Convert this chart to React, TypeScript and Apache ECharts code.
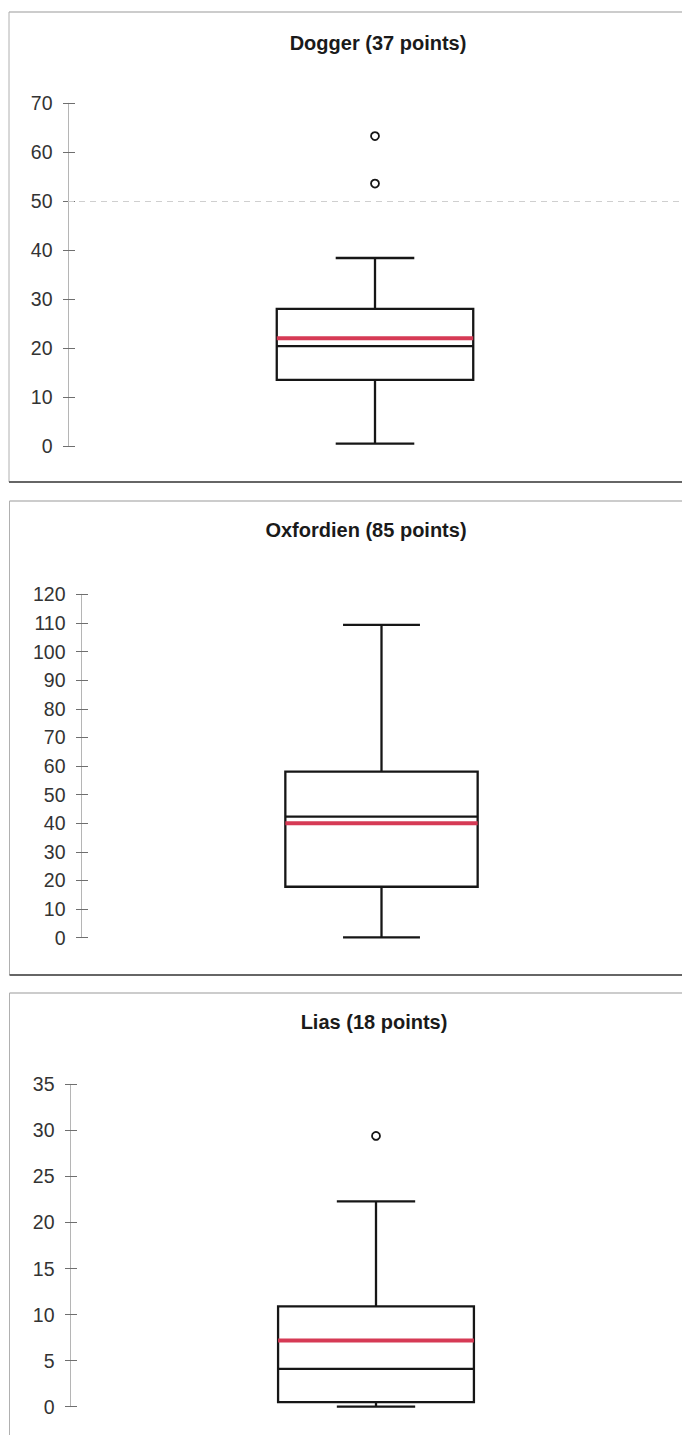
import React, { useEffect, useRef } from "react";
import * as echarts from "echarts";

// ---------- data ----------
const categories = ["Dogger", "Oxfordien", "Lias"];
const panelTitles = ["Dogger (37 points)", "Oxfordien (85 points)", "Lias (18 points)"];
// [min, Q1, median, Q3, max]
const doggerBox = [0.5, 13.5, 20.4, 28.0, 38.4];
const oxfordienBox = [0.1, 17.8, 42.3, 58.0, 109.3];
const liasBox = [0.0, 0.5, 4.1, 10.9, 22.3];
const meanValues = [22.0, 40.0, 7.2];
const doggerOutliers = [53.6, 63.3];
const oxfordienOutliers: number[] = [];
const liasOutliers = [29.4];
const yMaxValues = [70, 120, 35];
const yIntervals = [10, 10, 5];
const doggerThreshold = 50;

const boxes = [doggerBox, oxfordienBox, liasBox];
const outliers = [doggerOutliers, oxfordienOutliers, liasOutliers];
const thresholds: (number | null)[] = [doggerThreshold, null, null];

// ---------- layout / style ----------
const FONT = "'Liberation Sans', Arial, Helvetica, sans-serif";
const LAYOUT = [
  { frameTop: 12, frameBottom: 482, frameLeft: 9, gridLeft: 68, gridTop: 103.3, gridHeight: 342.7, gridRight: -16, titleX: 378, titleY: 43 },
  { frameTop: 501, frameBottom: 975, frameLeft: 9.5, gridLeft: 81, gridTop: 594.3, gridHeight: 343.4, gridRight: -17, titleX: 366, titleY: 530 },
  { frameTop: 993, frameBottom: null as number | null, frameLeft: 9.5, gridLeft: 70, gridTop: 1084.3, gridHeight: 322.4, gridRight: -15, titleX: 374, titleY: 1022 },
];
const BOX_RATIO = 0.32;
const CAP_RATIO = 0.128;
const INK = "#161616";
const MEAN_COLOR = "#d63a55";

function renderBox(_params: any, api: any) {
  const xi = api.value(0);
  const pMin = api.coord([xi, api.value(1)]);
  const pQ1 = api.coord([xi, api.value(2)]);
  const pMed = api.coord([xi, api.value(3)]);
  const pQ3 = api.coord([xi, api.value(4)]);
  const pMax = api.coord([xi, api.value(5)]);
  const pMean = api.coord([xi, api.value(6)]);
  const band = api.size([1, 0])[0];
  const cx = pMin[0];
  const hw = (band * BOX_RATIO) / 2;
  const cw = (band * CAP_RATIO) / 2;
  const ls = { stroke: INK, lineWidth: 2.3, fill: "none" };
  return {
    type: "group",
    children: [
      { type: "line", shape: { x1: cx, y1: pQ3[1], x2: cx, y2: pMax[1] }, style: ls },
      { type: "line", shape: { x1: cx, y1: pQ1[1], x2: cx, y2: pMin[1] }, style: ls },
      { type: "line", shape: { x1: cx - cw, y1: pMax[1], x2: cx + cw, y2: pMax[1] }, style: ls },
      { type: "line", shape: { x1: cx - cw, y1: pMin[1], x2: cx + cw, y2: pMin[1] }, style: ls },
      {
        type: "rect",
        shape: { x: cx - hw, y: pQ3[1], width: 2 * hw, height: pQ1[1] - pQ3[1] },
        style: { stroke: INK, lineWidth: 2.3, fill: "#ffffff" },
      },
      { type: "line", shape: { x1: cx - hw, y1: pMed[1], x2: cx + hw, y2: pMed[1] }, style: ls },
      {
        type: "line",
        shape: { x1: cx - hw, y1: pMean[1], x2: cx + hw, y2: pMean[1] },
        style: { stroke: MEAN_COLOR, lineWidth: 4, fill: "none" },
      },
    ],
  };
}

function buildOption() {
  const grid: any[] = [];
  const xAxis: any[] = [];
  const yAxis: any[] = [];
  const series: any[] = [];
  const title: any[] = [];
  const graphic: any[] = [];

  LAYOUT.forEach((L, i) => {
    grid.push({ left: L.gridLeft, top: L.gridTop, height: L.gridHeight, right: L.gridRight, containLabel: false });
    xAxis.push({ gridIndex: i, type: "category", data: [categories[i]], show: false, boundaryGap: true });
    yAxis.push({
      gridIndex: i,
      type: "value",
      position: "left",
      min: 0,
      max: yMaxValues[i],
      interval: yIntervals[i],
      axisLine: { show: true, lineStyle: { color: "#b5b5b5", width: 1 } },
      axisTick: { show: true, inside: false, length: 5, lineStyle: { color: "#6f6f6f", width: 1 } },
      axisLabel: { color: "#333", fontSize: 19.5, fontFamily: FONT, margin: 15.5 },
      splitLine: { show: false },
    });
    yAxis.push({
      gridIndex: i,
      type: "value",
      position: "left",
      min: 0,
      max: yMaxValues[i],
      interval: yIntervals[i],
      axisLine: { show: false },
      axisTick: { show: true, inside: true, length: 7, lineStyle: { color: "#6f6f6f", width: 1 } },
      axisLabel: { show: false },
      splitLine: { show: false },
    });

    const b = boxes[i];
    series.push({
      type: "custom",
      name: categories[i],
      xAxisIndex: i,
      yAxisIndex: 2 * i,
      renderItem: renderBox,
      encode: { x: 0, y: [1, 2, 3, 4, 5, 6] },
      data: [[0, b[0], b[1], b[2], b[3], b[4], meanValues[i]]],
      z: 3,
    });

    const th = thresholds[i];
    if (outliers[i].length > 0 || th !== null) {
      series.push({
        type: "scatter",
        name: categories[i] + " outliers",
        xAxisIndex: i,
        yAxisIndex: 2 * i,
        symbol: "circle",
        symbolSize: 8,
        itemStyle: { color: "#ffffff", borderColor: INK, borderWidth: 1.8, opacity: 1 },
        data: outliers[i].map((v) => [0, v]),
        z: 4,
        markLine:
          th !== null
            ? {
                silent: true,
                symbol: ["none", "none"],
                label: { show: false },
                lineStyle: { color: "#cfcfcf", width: 1, type: [6, 5] },
                data: [{ yAxis: th }],
              }
            : undefined,
      });
    }

    title.push({
      text: panelTitles[i],
      left: L.titleX,
      top: L.titleY,
      textAlign: "center",
      textVerticalAlign: "middle",
      padding: 0,
      textStyle: { fontFamily: FONT, fontSize: 20, fontWeight: "bold", color: "#1a1a1a" },
    });

    const bottom = L.frameBottom === null ? 1435 : L.frameBottom;
    graphic.push({
      type: "line",
      silent: true,
      shape: { x1: L.frameLeft, y1: L.frameTop, x2: 682, y2: L.frameTop },
      style: { stroke: "#9a9a9a", lineWidth: 1.2 },
    });
    graphic.push({
      type: "line",
      silent: true,
      shape: { x1: L.frameLeft, y1: L.frameTop, x2: L.frameLeft, y2: bottom },
      style: { stroke: "#b0b0b0", lineWidth: 1 },
    });
    if (L.frameBottom !== null) {
      graphic.push({
        type: "line",
        silent: true,
        shape: { x1: L.frameLeft, y1: L.frameBottom, x2: 682, y2: L.frameBottom },
        style: { stroke: "#666666", lineWidth: 2 },
      });
    }
  });

  return {
    animation: false,
    backgroundColor: "#ffffff",
    title,
    grid,
    xAxis,
    yAxis,
    series,
    graphic,
  };
}

export default function App() {
  const ref = useRef<HTMLDivElement>(null);
  useEffect(() => {
    if (!ref.current) return;
    const chart = echarts.init(ref.current, undefined, { renderer: "svg" });
    chart.setOption(buildOption() as any);
    return () => chart.dispose();
  }, []);
  return (
    <div
      ref={ref}
      style={{ position: "absolute", left: 0, top: 0, width: 682, height: 1435, background: "#fff" }}
    />
  );
}
